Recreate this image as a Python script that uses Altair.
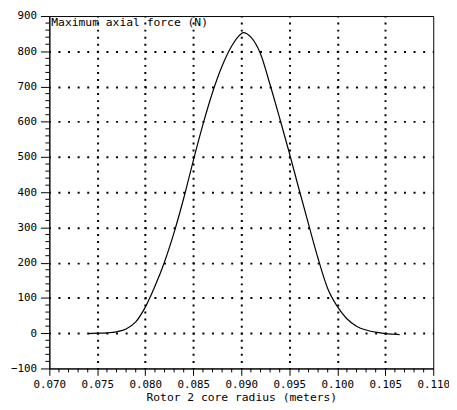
import altair as alt
import pandas as pd

# curve data
radius = [0.0740, 0.0750, 0.0760, 0.0770, 0.0780, 0.0790, 0.0800, 0.0810,
          0.0820, 0.0830, 0.0840, 0.0850, 0.0860, 0.0870, 0.0880, 0.0890,
          0.0900, 0.0902, 0.0910, 0.0920, 0.0930, 0.0940, 0.0950, 0.0960,
          0.0970, 0.0980, 0.0990, 0.1000, 0.1010, 0.1020, 0.1030, 0.1040,
          0.1050, 0.1060, 0.1065]
force = [-1, 0, 1, 4, 12, 32, 74, 133,
         202, 286, 383, 490, 592, 683, 758, 815,
         850, 853, 840, 793, 705, 610, 512, 410,
         310, 212, 127, 76, 41, 20, 9, 3,
         -1, -3, -4]

x_ticks = [0.070, 0.075, 0.080, 0.085, 0.090, 0.095, 0.100, 0.105, 0.110]
y_ticks = [-100, 0, 100, 200, 300, 400, 500, 600, 700, 800, 900]
x_minor = [round(0.070 + i * 0.001, 3) for i in range(41) if i % 5 != 0]
y_minor = [-100 + i * 20 for i in range(51) if i % 5 != 0]
label_text = ["Maximum axial force (N)"]

FONT = "DejaVu Sans Mono"
H = 358

xs = alt.Scale(domain=[0.070, 0.110], nice=False, zero=False)
ys = alt.Scale(domain=[-100, 900], nice=False, zero=False)

xaxis = alt.Axis(
    values=x_ticks, format=".3f", title="Rotor 2 core radius (meters)",
    grid=True, gridColor="black", gridWidth=2, gridDash=[2, 5.16], gridDashOffset=1,
    gridOpacity={"condition": {"test": "datum.value < 0.0705 || datum.value > 0.1095", "value": 0}, "value": 1},
    tickSize=7, tickColor="black", domainColor="black",
    labelFont=FONT, labelFontSize=11, labelColor="black", labelPadding=3,
    labelOverlap=False,
    titleFont=FONT, titleFontSize=11.5, titleFontWeight="normal", titleColor="black",
    titlePadding=3, labelFlush=False)
yaxis = alt.Axis(
    values=y_ticks, format="d", title=None,
    grid=True, gridColor="black", gridWidth=2, gridDash=[2, 7.75], gridDashOffset=1,
    gridOpacity={"condition": {"test": "datum.value < -50 || datum.value > 850", "value": 0}, "value": 1},
    tickSize=9, tickColor="black", domainColor="black",
    labelFont=FONT, labelFontSize=11, labelColor="black", labelPadding=4,
    labelOverlap=False, labelFlush=False)

df = pd.DataFrame({"r": radius, "f": force})

line = alt.Chart(df).mark_line(color="black", strokeWidth=1.2, interpolate="monotone").encode(
    x=alt.X("r:Q", scale=xs, axis=xaxis),
    y=alt.Y("f:Q", scale=ys, axis=yaxis),
)

xminor = alt.Chart(pd.DataFrame({"r": x_minor})).mark_rule(color="black", strokeWidth=1).encode(
    x=alt.X("r:Q", scale=xs, axis=xaxis), y=alt.value(H), y2=alt.value(H + 4))

yminor = alt.Chart(pd.DataFrame({"f": y_minor})).mark_rule(color="black", strokeWidth=1).encode(
    y=alt.Y("f:Q", scale=ys, axis=yaxis), x=alt.value(0), x2=alt.value(-4))

label = alt.Chart(pd.DataFrame({"t": label_text})).mark_text(
    font=FONT, fontSize=11.5, align="left", baseline="middle", color="black").encode(
    text="t:N", x=alt.value(2), y=alt.value(7))

chart = alt.layer(line, xminor, yminor, label).properties(
    width=390, height=H,
    background="white",
    autosize=alt.AutoSizeParams(type="none"),
    padding={"left": 42, "top": 5, "right": 16, "bottom": 37},
).configure_view(stroke="black", strokeWidth=1).configure_axis(labelOverlap=False)

chart.save("out.html", embed_options={"renderer": "svg", "actions": False})
